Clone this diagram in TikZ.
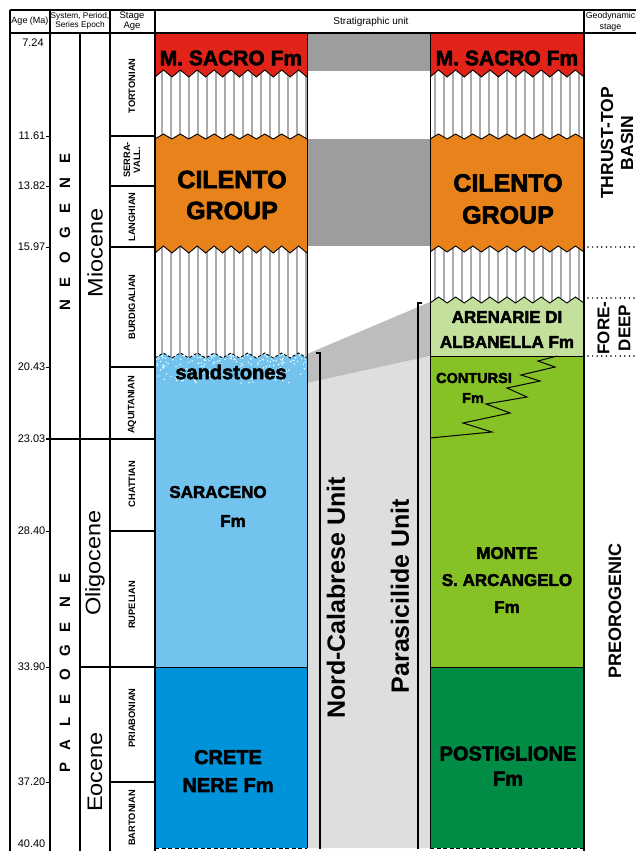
\documentclass[tikz,border=0pt]{standalone}
\usepackage{fontspec}
\setmainfont{Liberation Sans}
\newfontfamily\heavyfont[FakeBold=2.6]{Liberation Sans Bold}
\usetikzlibrary{calc}
\definecolor{cRed}{HTML}{E2231A}
\definecolor{cOrange}{HTML}{E8821A}
\definecolor{cLBlue}{HTML}{72C4EE}
\definecolor{cBlue}{HTML}{0093DA}
\definecolor{cLGreen}{HTML}{C3E09C}
\definecolor{cGreen}{HTML}{86C226}
\definecolor{cDGreen}{HTML}{008C45}
\definecolor{cDGray}{HTML}{9D9D9D}
\definecolor{cMGray}{HTML}{BDBDBD}
\definecolor{cLGray}{HTML}{DEDEDE}
\definecolor{cHatch}{HTML}{ABABAB}
\newcommand\zigline[5]{(#1,#4) \foreach \k in {1,...,#3}{ -- ({#1+(\k-0.5)*(#2-#1)/#3},#5) -- ({#1+\k*(#2-#1)/#3},#4)}}
\newcommand\hatchblock[7]{%
  \fill[white] \zigline{#1}{#2}{#3}{#4}{#5} -- (#2,#6) -- (#1,#6) -- cycle;
  \begin{scope}
    \clip \zigline{#1}{#2}{#3}{#4}{#5} -- (#2,#6) -- (#1,#6) -- cycle;
    \foreach \hx in {0,...,17} {\draw[cHatch,line width=1.7pt] ({#7+\hx*9},0) -- ({#7+\hx*9},900);}
  \end{scope}}
\tikzset{
  heavy/.style 2 args={font=\heavyfont\fontsize{#1}{#2}\selectfont, align=center, inner sep=0pt},
  bold/.style 2 args={font=\bfseries\fontsize{#1}{#2}\selectfont, align=center, inner sep=0pt},
  reg/.style 2 args={font=\fontsize{#1}{#2}\selectfont, align=center, inner sep=0pt},
  agelbl/.style={font=\fontsize{11}{11}\selectfont, anchor=east, inner sep=0pt},
  stagelbl/.style={font=\bfseries\fontsize{9.3}{10}\selectfont, rotate=90, align=center, inner sep=0pt},
  syslbl/.style={font=\bfseries\fontsize{15}{15}\selectfont, rotate=90, inner sep=0pt},
  serlbl/.style={font=\fontsize{21}{21}\selectfont, rotate=90, inner sep=0pt},
  tbl/.style={black, line width=1.3pt},
  zig/.style={black, line width=0.9pt},
  dotline/.style={black, line width=1.7pt, dash pattern=on 0pt off 4.6pt, line cap=round}
}
\begin{document}
\begin{tikzpicture}[x=1pt,y=-1pt]
\useasboundingbox (0,0) rectangle (636,851);
\begin{scope}
\clip (0,0) rectangle (636,851);
% ---------- grey band between the columns
\fill[cDGray] (307,33) rectangle (430,71);
\fill[cDGray] (307,139) rectangle (430,246);
\fill[cLGray] (307,383) -- (430,356) -- (430,848) -- (307,848) -- cycle;
\fill[cMGray] (307,354) -- (430,302) -- (430,356) -- (307,383) -- cycle;
% ---------- column 1
\fill[cRed] (155,33) rectangle (307,80);
\hatchblock{155}{307}{9}{77}{70}{142}{162}
\fill[cOrange] \zigline{155}{307}{9}{139}{134} -- (307,255) -- (155,255) -- cycle;
\hatchblock{155}{307}{9}{253}{246}{360}{162}
\fill[cLBlue] \zigline{155}{307}{9}{358}{353} -- (307,667) -- (155,667) -- cycle;
\begin{scope}
\clip \zigline{155}{307}{9}{358}{353} -- (307,667) -- (155,667) -- cycle;
\pgfmathsetseed{12}
\foreach \i in {1,...,260}{
  \pgfmathsetmacro\sx{156+150*rnd}
  \pgfmathsetmacro\sy{352+34*rnd*rnd}
  \fill[white] (\sx,\sy) circle[radius=0.8pt];
}
\end{scope}
\fill[cBlue] (155,667) rectangle (307,848);
% ---------- column 2
\fill[cRed] (430,33) rectangle (584,80);
\hatchblock{430}{584}{9}{77}{70}{142}{435}
\fill[cOrange] \zigline{430}{584}{9}{139}{134} -- (584,255) -- (430,255) -- cycle;
\hatchblock{430}{584}{9}{252}{246}{306}{435}
\fill[cLGreen] \zigline{430}{584}{9}{303}{297} -- (584,356) -- (430,356) -- cycle;
\fill[cGreen] (430,356) rectangle (584,667);
\fill[cDGreen] (430,667) rectangle (584,848);
% ---------- boundaries
\draw[zig] \zigline{155}{307}{9}{77}{70};
\draw[zig] \zigline{155}{307}{9}{139}{134};
\draw[zig] \zigline{155}{307}{9}{253}{246};
\draw[zig, dash pattern=on 3pt off 2pt] \zigline{155}{307}{9}{358}{353};
\draw[zig] (155,667) -- (307,667);
\draw[zig, dash pattern=on 4pt off 2.5pt] (155,848) -- (307,848);
\draw[zig] \zigline{430}{584}{9}{77}{70};
\draw[zig] \zigline{430}{584}{9}{139}{134};
\draw[zig] \zigline{430}{584}{9}{252}{246};
\draw[zig] \zigline{430}{584}{9}{303}{297};
\draw[zig] (430,356) -- (584,356);
\draw[zig] (430,667) -- (584,667);
\draw[zig, dash pattern=on 4pt off 2.5pt] (430,848) -- (584,848);
\draw[line width=1pt] (307,33) -- (307,848);
\draw[line width=1pt] (430,33) -- (430,848);
% Contursi interfingering
\draw[line width=1pt] (430,438) -- (492,432) -- (463,423) -- (510,413) -- (486,404) -- (527,397) -- (507,388) -- (540,381) -- (521,375) -- (555,367) -- (538,361) -- (557,356);
% unit brackets
\draw[line width=1.1pt] (316,353) -- (320,353) -- (320,849);
\draw[line width=1.1pt] (422,303) -- (418,303) -- (418,849);
% ---------- table frame
\draw[tbl] (10,10) -- (636,10);
\draw[tbl] (10,33) -- (636,33);
\draw[tbl] (10,10) -- (10,851);
\draw[tbl] (50,10) -- (50,851);
\draw[tbl] (80,33) -- (80,851);
\draw[tbl] (110,10) -- (110,851);
\draw[tbl] (155,10) -- (155,851);
\draw[tbl] (584,10) -- (584,851);
\draw[black, line width=2.6pt] (46,439) -- (155,439);
\draw[tbl] (80,667) -- (155,667);
\foreach \yy in {136,186,247,367,531,782} {\draw[tbl] (110,\yy) -- (155,\yy);}
\foreach \yy in {136,186,247,367,531,667,782} {\draw[line width=1pt] (46,\yy) -- (50,\yy);}
% geodynamic dotted limits
\draw[dotline] (588,247) -- (636,247);
\draw[dotline] (588,298) -- (636,298);
\draw[dotline] (588,356) -- (636,356);
% ---------- header texts
\node[reg={9}{10}] (hAge) at (30,21) {Age (Ma)};
\node[reg={8.3}{8.5}] (hSys) at (80,21) {System, Period,\\Series Epoch};
\node[reg={9.5}{10}] (hStage) at (132,21) {Stage\\Age};
\node[reg={10}{10}] (hStrat) at (371,22) {Stratigraphic unit};
\node[reg={8.8}{10.5}] (hGeo) at (610.5,21.5) {Geodynamic\\stage};
% ---------- ages
\node[font=\fontsize{11}{11}\selectfont, inner sep=0pt] (a1) at (33,43) {7.24};
\node[agelbl] (a2) at (45.5,136) {11.61};
\node[agelbl] (a3) at (45.5,186) {13.82};
\node[agelbl] (a4) at (45.5,247) {15.97};
\node[agelbl] (a5) at (45.5,367) {20.43};
\node[agelbl] (a6) at (45.5,439) {23.03};
\node[agelbl] (a7) at (45.5,531) {28.40};
\node[agelbl] (a8) at (45.5,667) {33.90};
\node[agelbl] (a9) at (45.5,782) {37.20};
\node[agelbl] (a10) at (45.5,844) {40.40};
% ---------- systems
\foreach \L/\yy [count=\n] in {N/305,E/282,O/258,G/233,E/208,N/183,E/158}
  {\node[syslbl] (neo\n) at (65,\yy) {\L};}
\foreach \L/\yy [count=\n] in {P/767,A/745,L/722,E/699,O/675,G/651,E/627,N/602,E/578}
  {\node[syslbl] (pal\n) at (65,\yy) {\L};}
% ---------- series
\node[serlbl] (sMio) at (95,253) {\scalebox{1.12}[1]{Miocene}};
\node[serlbl] (sOli) at (95,563) {\scalebox{1.12}[1]{Oligocene}};
\node[serlbl] (sEoc) at (95,772) {\scalebox{1.12}[1]{Eocene}};
% ---------- stages
\node[stagelbl] (st1) at (132,86) {TORTONIAN};
\node[stagelbl] (st2) at (132,160) {SERRA-\\VALL.};
\node[stagelbl] (st3) at (132,217) {LANGHIAN};
\node[stagelbl] (st4) at (132,307) {BURDIGALIAN};
\node[stagelbl] (st5) at (132,405) {AQUITANIAN};
\node[stagelbl] (st6) at (132,484) {CHATTIAN};
\node[stagelbl] (st7) at (132,605) {RUPELIAN};
\node[stagelbl] (st8) at (132,718) {PRIABONIAN};
\node[stagelbl] (st9) at (132,818) {BARTONIAN};
% ---------- unit names, column 1
\node[heavy={21}{24}] (c1sacro) at (231,58) {M. SACRO Fm};
\node[heavy={25}{31}] (c1cil) at (232,195) {CILENTO\\GROUP};
\node[heavy={20}{22}] (c1sand) at (231,372) {sandstones};
\node[heavy={17}{20}] (c1sar) at (218,492) {SARACENO};
\node[heavy={17}{20}] (c1sarfm) at (233,521) {Fm};
\node[heavy={20}{28}] (c1cre) at (228,771) {CRETE\\NERE Fm};
% ---------- unit names, column 2
\node[heavy={21}{24}] (c2sacro) at (507,58) {M. SACRO Fm};
\node[heavy={25}{32}] (c2cil) at (508,199) {CILENTO\\GROUP};
\node[heavy={17}{25}] (c2are) at (507,329.5) {ARENARIE DI\\ALBANELLA Fm};
\node[heavy={14.5}{17}] (c2con) at (474,378) {CONTURSI};
\node[heavy={14.5}{17}] (c2confm) at (473,398) {Fm};
\node[heavy={17}{27}] (c2mon) at (507,580) {MONTE\\S. ARCANGELO\\Fm};
\node[heavy={20}{25}] (c2pos) at (508,766) {POSTIGLIONE\\Fm};
% ---------- tectonic units
\node[bold={25}{25}, rotate=90] (uNC) at (336,598) {Nord-Calabrese Unit};
\node[bold={25}{25}, rotate=90] (uPS) at (400,596) {Parasicilide Unit};
% ---------- geodynamic stages
\node[bold={17.5}{20}, rotate=90] (gTT) at (617,143) {THRUST-TOP\\BASIN};
\node[bold={17}{21}, rotate=90] (gFD) at (614,328) {FORE-\\DEEP};
\node[bold={18}{18}, rotate=90] (gPR) at (615,611) {PREOROGENIC};
\end{scope}
\end{tikzpicture}
\end{document}
